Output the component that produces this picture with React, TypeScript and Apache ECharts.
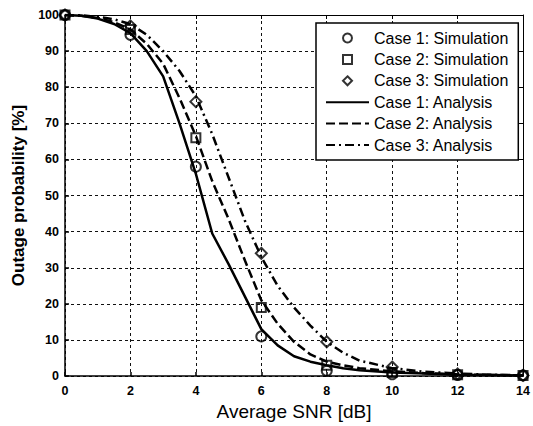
import React, { useEffect, useRef } from "react";
import * as echarts from "echarts";

const simX = [0, 2, 4, 6, 8, 10, 12, 14];
const case1Sim = [100, 94.5, 58, 11, 1.5, 0.5, 0.3, 0.2];
const case2Sim = [100, 96, 66, 19, 3, 1, 0.4, 0.2];
const case3Sim = [100, 97, 76, 34, 9.5, 2.5, 0.6, 0.2];

const anaX = [0, 0.5, 1, 1.5, 2, 2.5, 3, 3.5, 4, 4.5, 5, 5.5, 6, 6.5, 7, 7.5, 8, 8.5, 9, 10, 11, 12, 13, 14];
const case1Ana = [100, 99.8, 99, 97.5, 95, 90, 83, 70, 56, 39.5, 31, 22, 13, 8.5, 5.5, 4, 3, 2.2, 1.6, 1.0, 0.7, 0.4, 0.3, 0.2];
const case2Ana = [100, 99.8, 99.2, 98, 96, 92, 86.5, 77, 66.5, 54, 43.5, 32, 21, 14.5, 9.5, 6, 4, 3, 2.2, 1.3, 0.8, 0.5, 0.3, 0.2];
const case3Ana = [100, 99.9, 99.5, 98.8, 97.5, 94.5, 90, 84.5, 77.5, 67, 55, 43, 33, 25, 19, 14, 9.5, 6.5, 4.3, 2.2, 1.2, 0.7, 0.4, 0.2];

const names = [
  "Case 1: Simulation",
  "Case 2: Simulation",
  "Case 3: Simulation",
  "Case 1: Analysis",
  "Case 2: Analysis",
  "Case 3: Analysis",
];

const xTicks = { min: 0, max: 14, interval: 2 };
const yTicks = { min: 0, max: 100, interval: 10 };

const zip = (xs: number[], ys: number[]) => xs.map((x, i) => [x, ys[i]]);

const legendIcons = [
  "circle",
  "path://M0,0 L10,0 L10,10 L0,10 Z",
  "path://M5,0 L10,5 L5,10 L0,5 Z",
];

export default function App() {
  const ref = useRef<HTMLDivElement>(null);
  useEffect(() => {
    if (!ref.current) return;
    const chart = echarts.init(ref.current, null, { renderer: "svg" });
    const font = "Arial, 'Liberation Sans', sans-serif";
    const gridLine = { show: true, lineStyle: { color: "#111", width: 1, type: [3, 3] as any } };
    const simStyle = (symbol: string, size: number, name: string, ys: number[]) => ({
      type: "scatter",
      name,
      data: zip(simX, ys),
      symbol,
      symbolSize: size,
      itemStyle: { color: "rgba(0,0,0,0)", borderColor: "#000", borderWidth: 2 },
      z: 5,
    });
    const anaStyle = (name: string, ys: number[], type: any) => ({
      type: "line",
      name,
      data: zip(anaX, ys),
      symbol: "none",
      showSymbol: false,
      lineStyle: { color: "#000", width: 2.5, type },
      itemStyle: { color: "#000" },
      z: 3,
    });
    const legendData = names.map((n, i) =>
      i < 3
        ? {
            name: n,
            icon: legendIcons[i],
            itemStyle: { color: "rgba(0,0,0,0)", borderColor: "#000", borderWidth: 2 },
          }
        : { name: n, itemStyle: { opacity: 0, color: "rgba(0,0,0,0)", borderWidth: 0 } }
    );
    chart.setOption({
      animation: false,
      backgroundColor: "#fff",
      grid: { left: 65, right: 6, top: 15, bottom: 48, containLabel: false },
      legend: {
        orient: "vertical",
        left: 316,
        top: 23,
        data: legendData,
        symbolKeepAspect: true,
        itemWidth: 43,
        itemHeight: 9,
        itemGap: 5.4,
        itemTextGap: 4,
        padding: [7, 10, 7, 9],
        backgroundColor: "#fff",
        borderColor: "#000",
        borderWidth: 1.5,
        borderRadius: 0,
        textStyle: { color: "#000", fontSize: 16, fontFamily: font },
        selectedMode: false,
      },
      xAxis: [
        {
          type: "value",
          ...xTicks,
          name: "Average SNR [dB]",
          nameLocation: "middle",
          nameGap: 15,
          nameTextStyle: { color: "#000", fontSize: 19, fontFamily: font },
          axisLine: { show: true, lineStyle: { color: "#000", width: 1.5 } },
          axisTick: { show: true, inside: true, length: 4, lineStyle: { color: "#000", width: 1.5 } },
          axisLabel: { color: "#000", fontSize: 12.5, fontWeight: "bold", fontFamily: font, margin: 8 },
          splitLine: gridLine,
        },
        {
          type: "value",
          ...xTicks,
          position: "top",
          axisLine: { show: true, onZero: false, lineStyle: { color: "#000", width: 1 } },
          axisTick: { show: true, inside: true, length: 4, lineStyle: { color: "#000" } },
          axisLabel: { show: false },
          splitLine: { show: false },
        },
      ],
      yAxis: [
        {
          type: "value",
          ...yTicks,
          name: "Outage probability [%]",
          nameLocation: "middle",
          nameGap: 36,
          nameTextStyle: { color: "#000", fontSize: 17, fontWeight: "bold", fontFamily: font },
          axisLine: { show: true, lineStyle: { color: "#000", width: 1.5 } },
          axisTick: { show: true, inside: true, length: 4, lineStyle: { color: "#000", width: 1.5 } },
          axisLabel: { color: "#000", fontSize: 12.5, fontWeight: "bold", fontFamily: font, margin: 6 },
          splitLine: gridLine,
        },
        {
          type: "value",
          ...yTicks,
          position: "right",
          axisLine: { show: true, onZero: false, lineStyle: { color: "#000", width: 1 } },
          axisTick: { show: true, inside: true, length: 4, lineStyle: { color: "#000" } },
          axisLabel: { show: false },
          splitLine: { show: false },
        },
      ],
      series: [
        anaStyle(names[3], case1Ana, "solid"),
        anaStyle(names[4], case2Ana, [9, 4]),
        anaStyle(names[5], case3Ana, [9, 4, 2, 4]),
        simStyle("circle", 10, names[0], case1Sim),
        simStyle("rect", 9, names[1], case2Sim),
        simStyle("diamond", 11, names[2], case3Sim),
      ],
    });
    return () => chart.dispose();
  }, []);
  return (
    <div
      ref={ref}
      style={{ position: "fixed", left: 0, top: 0, width: 533, height: 426, background: "#fff" }}
    />
  );
}
